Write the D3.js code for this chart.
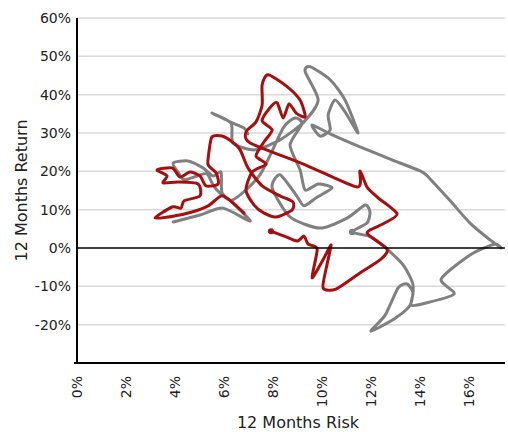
<!DOCTYPE html>
<html><head><meta charset="utf-8">
<script src="https://cdn.jsdelivr.net/npm/d3@7"></script>
<style>body{margin:0;background:#fff}svg{display:block}text{font-family:"DejaVu Sans",Verdana,sans-serif;fill:#222}</style>
</head><body>
<svg id="c" width="508" height="432"></svg>
<script>
const xTicks = [0,2,4,6,8,10,12,14,16];
const yTicks = [-20,-10,0,10,20,30,40,50,60];
const xTitle = "12 Months Risk";
const yTitle = "12 Months Return";
// [risk %, return %]
const redSeries = [
[7.93,4.4],[8.47,3.1],[9.00,1.8],[9.28,3.1],[9.45,1.0],[9.82,-0.3],[9.61,-7.8],[10.10,-2.6],[10.39,0.8],[10.22,-4.4],
[10.06,-10.4],[10.59,-10.7],[11.57,-6.5],[12.43,-2.9],[12.68,-0.3],[11.86,3.9],[12.52,6.3],[13.09,8.9],[12.31,13.1],[11.86,15.9],
[11.57,20.1],[11.45,15.9],[9.33,21.7],[7.08,27.4],[6.91,30.3],[7.32,32.9],[7.57,37.3],[7.57,42.6],[7.81,45.2],[8.55,42.3],
[9.12,38.6],[9.33,34.2],[8.96,35.2],[8.67,37.6],[8.43,33.9],[8.18,37.9],[7.89,36.6],[7.57,33.2],[7.98,30.8],[7.65,27.7],
[7.32,24.0],[7.73,21.9],[7.16,19.8],[6.91,15.1],[7.24,11.2],[7.65,9.1],[8.14,8.1],[8.79,9.9],[8.83,12.0],[8.30,13.6],
[7.57,16.2],[6.99,20.9],[6.67,25.6],[6.34,27.7],[5.93,29.2],[5.52,29.0],[5.40,25.3],[5.36,21.7],[5.69,19.6],[5.77,16.7],
[5.28,16.2],[5.03,18.8],[4.62,19.8],[4.21,18.5],[3.89,20.9],[3.27,20.4],[3.68,18.8],[3.52,17.0],[4.13,17.2],[4.95,16.7],
[5.03,13.6],[4.38,12.3],[4.25,10.4],[3.89,10.7],[3.19,7.8],[4.01,8.4],[4.70,9.4],[5.36,11.0],[5.93,13.6],[6.42,11.5],[6.83,9.1]
];
const greySeries = [
[3.93,6.8],[5.03,8.6],[5.97,10.4],[7.08,7.0],[6.38,11.7],[5.93,14.4],[5.89,19.8],[5.56,18.8],[5.15,20.9],[4.54,22.7],
[3.93,22.2],[4.13,19.8],[4.38,17.8],[4.91,18.8],[5.32,19.3],[5.64,15.7],[6.34,12.5],[7.48,19.1],[8.43,31.3],[8.92,33.9],
[9.20,32.4],[8.71,26.9],[9.12,20.4],[9.33,15.1],[9.86,16.7],[10.43,15.7],[9.78,13.1],[9.28,11.0],[8.96,13.8],[8.30,19.1],
[7.98,15.7],[8.71,8.1],[9.94,5.2],[11.04,7.8],[11.78,11.2],[11.98,9.4],[11.86,6.5],[11.25,4.2],
[12.02,2.9],[12.68,-0.3],[13.37,-4.7],[13.74,-9.7],[13.62,-14.9],[13.01,-18.3],[12.02,-21.7],[12.60,-17.5],[13.13,-10.4],[13.50,-9.4],
[13.74,-11.7],[13.66,-14.9],[14.23,-14.4],[15.42,-12.0],[14.89,-8.1],[16.07,-1.8],[17.06,1.0],[17.34,0],[16.89,2.1],[16.07,6.5],
[15.26,12.3],[14.44,18.0],[14.27,19.1],[14.03,20.1],[12.80,23.2],[11.57,26.4],[10.35,29.8],
[9.61,32.1],[9.94,29.2],[10.35,30.8],[10.27,34.7],[10.55,38.6],[10.96,35.5],[11.49,30.0],[10.96,38.6],[10.35,43.9],
[9.53,47.3],[9.33,46.0],[9.86,38.6],[9.28,32.9],
[8.30,28.2],[7.28,25.6],[6.38,27.4],[6.30,32.6],[5.52,35.2],[6.26,32.9],[6.83,31.3],[6.99,29.8]
];
// points drawn as small blobs (start of red, corner of grey)
const redBlob = [redSeries[0]];
const greyBlob = [[11.25,4.2]];

const svg = d3.select("#c");
const x = d3.scaleLinear().domain([0,17.5]).range([77,505]);
const y = d3.scaleLinear().domain([-30,60]).range([363,18]);

// grid
svg.append("g").selectAll("line").data(yTicks.filter(d=>d!==0)).join("line")
  .attr("x1",x(0)).attr("x2",x(17.5)).attr("y1",d=>y(d)).attr("y2",d=>y(d))
  .attr("stroke","#d9d9d9").attr("stroke-width",1.5);

// y axis
const yAxis = d3.axisLeft(y).tickValues(yTicks).tickFormat(d=>d+"%").tickSize(0).tickPadding(6);
const gy = svg.append("g").attr("transform",`translate(${x(0)},0)`).call(yAxis);
gy.select(".domain").remove();
gy.selectAll("text").style("font-size","14px").attr("fill","#222");

// x axis
const xAxis = d3.axisBottom(x).tickValues(xTicks).tickFormat(d=>d+"%").tickSize(0).tickPadding(0);
const gx = svg.append("g").attr("transform",`translate(0,${y(-30)})`).call(xAxis);
gx.select(".domain").remove();
gx.selectAll("text").style("font-size","14px").attr("fill","#222")
  .attr("text-anchor","end").attr("transform","rotate(-90)")
  .attr("x",-13).attr("y",0).attr("dy","0.35em");

// lines
const line = d3.line().x(d=>x(d[0])).y(d=>y(d[1])).curve(d3.curveCardinal.tension(0.3));
svg.append("path").datum(greySeries).attr("d",line).attr("fill","none")
  .attr("stroke","#808080").attr("stroke-width",3).attr("stroke-linejoin","round").attr("stroke-linecap","round");
svg.selectAll(".gb").data(greyBlob).join("circle").attr("cx",d=>x(d[0])).attr("cy",d=>y(d[1])).attr("r",3.2).attr("fill","#808080");
svg.append("path").datum(redSeries).attr("d",line).attr("fill","none")
  .attr("stroke","#a50f0f").attr("stroke-width",3).attr("stroke-linejoin","round").attr("stroke-linecap","round");
svg.selectAll(".rb").data(redBlob).join("circle").attr("cx",d=>x(d[0])).attr("cy",d=>y(d[1])).attr("r",3).attr("fill","#a50f0f");

// zero line and axis lines
svg.append("line").attr("x1",x(0)).attr("x2",x(17.5)).attr("y1",y(0)).attr("y2",y(0)).attr("stroke","#000").attr("stroke-width",1.5);
svg.append("line").attr("x1",x(0)).attr("x2",x(0)).attr("y1",y(60)).attr("y2",y(-30)).attr("stroke","#000").attr("stroke-width",2);
svg.append("line").attr("x1",x(0)-3).attr("x2",x(17.5)).attr("y1",y(-30)).attr("y2",y(-30)).attr("stroke","#000").attr("stroke-width",2);

// titles
svg.append("text").attr("x",298).attr("y",428).attr("text-anchor","middle").style("font-size","16px").text(xTitle);
svg.append("text").attr("transform",`translate(27,${(y(60)+y(-30))/2}) rotate(-90)`).attr("text-anchor","middle").style("font-size","16px").text(yTitle);
</script>
</body></html>
